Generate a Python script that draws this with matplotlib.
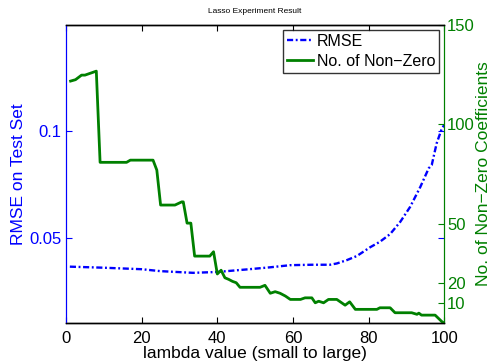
import matplotlib
matplotlib.use("Agg")
import matplotlib.pyplot as plt

plt.rcParams['font.family'] = ['Liberation Sans', 'DejaVu Sans']

# RMSE curve (lambda, rmse)
rmse_lambda = [1, 10, 20, 24.9, 33.6, 39.9, 47.8, 54, 59.3, 65, 69.8, 71.6, 74.3, 76.9,
               80.4, 83, 85.7, 88.4, 91, 93.7, 95.9, 96.7, 98, 99.4, 100]
rmse_vals = [0.0365, 0.0360, 0.0353, 0.0344, 0.0336, 0.0340, 0.0352, 0.0362, 0.0372, 0.0374,
             0.0374, 0.0380, 0.0396, 0.0415, 0.0456, 0.0482, 0.0518, 0.0576, 0.0646,
             0.0740, 0.0827, 0.0842, 0.0944, 0.1015, 0.1030]

# Number of non-zero coefficients (lambda, count)
nz_lambda = [1.2, 2.5, 4.1, 5.0, 6.8, 8.0, 9.0, 16, 17, 23, 24, 25, 28.8, 30.6, 31, 32, 33,
             34, 38, 39, 40, 41, 42, 43, 44, 45, 46, 51.3, 52.6, 54, 55.3, 56.6, 58, 59.3,
             62, 63.2, 65, 65.9, 66.8, 68.1, 69.4, 71.6, 73.8, 75, 76.5, 82.2, 83, 85.7,
             87, 91.4, 92.8, 93.3, 94, 97.6, 99.4, 100]
nz_vals = [121.8, 122.5, 124.8, 124.8, 126, 126.8, 80.9, 80.9, 82, 82, 77, 59.4, 59.4, 61,
           61, 50.3, 50.3, 33.7, 33.7, 35.9, 24.7, 26.6, 22.8, 22, 21, 20.3, 18, 18, 19,
           15, 15.8, 15, 13.6, 11.9, 11.9, 12.7, 12.7, 10.2, 11, 10.2, 11.9, 11.9, 9, 10.7,
           6.9, 6.9, 7.7, 7.7, 5.2, 5.2, 4.4, 5, 4, 4, 0.7, 0]

x_ticks = [0, 20, 40, 60, 80, 100]
left_ticks = [0.05, 0.1]
right_ticks = [10, 20, 50, 100, 150]

BLUE = (0, 0, 1)
GREEN = (0, 0.5, 0)

fig = plt.figure(figsize=(4.93, 3.63), dpi=100)
ax1 = fig.add_axes([0.134, 0.110, 0.767, 0.821])
ax2 = ax1.twinx()

l1, = ax1.plot(rmse_lambda, rmse_vals, color=BLUE, linestyle='-.', linewidth=1.7,
               dashes=(2.6, 1.1, 0.8, 1.1), label='RMSE')
l2, = ax2.plot(nz_lambda, nz_vals, color=GREEN, linestyle='-', linewidth=2.0,
               label='No. of Non\u2212Zero')

ax1.set_xlim(0, 100)
ax1.set_ylim(0.01, 0.15)
ax2.set_ylim(0, 150)
ax1.set_xticks(x_ticks)
ax1.set_yticks(left_ticks)
ax1.set_yticklabels(['0.05', '0.1'])
ax2.set_yticks(right_ticks)

ax1.tick_params(axis='x', direction='in', top=True, bottom=True, colors='black',
                labelsize=12, length=4, pad=6)
ax1.tick_params(axis='y', direction='in', left=True, right=True, colors=BLUE,
                labelsize=12, length=4)
ax2.tick_params(axis='y', direction='in', colors=GREEN, labelsize=12, length=4, pad=2)
ax2.tick_params(axis='x', top=False, bottom=False)

for a in (ax1, ax2):
    a.spines['top'].set_color('black')
    a.spines['bottom'].set_color('black')
    a.spines['top'].set_linewidth(1.0)
    a.spines['bottom'].set_linewidth(1.0)
ax1.spines['left'].set_color(BLUE)
ax2.spines['left'].set_color(BLUE)
ax1.spines['right'].set_color(GREEN)
ax2.spines['right'].set_color(GREEN)

ax1.set_xlabel('lambda value (small to large)', fontsize=12.5, labelpad=0)
ax1.set_ylabel('RMSE on Test Set', fontsize=12.5, color=BLUE, labelpad=2)
ax2.set_ylabel('No. of Non\u2212Zero Coefficients', fontsize=12.5, color=GREEN, labelpad=1)
ax1.set_title('Lasso Experiment Result', fontsize=6, pad=9)

leg = ax1.legend([l1, l2], ['RMSE', 'No. of Non\u2212Zero'], loc='upper right',
                 fontsize=11.5, frameon=True, fancybox=False, borderaxespad=0.3,
                 handlelength=1.6, handletextpad=0.25, borderpad=0.25, labelspacing=0.3)
leg.get_frame().set_edgecolor('black')
leg.get_frame().set_linewidth(1.0)
leg.set_zorder(10)

fig.savefig('out.png', dpi=100)
